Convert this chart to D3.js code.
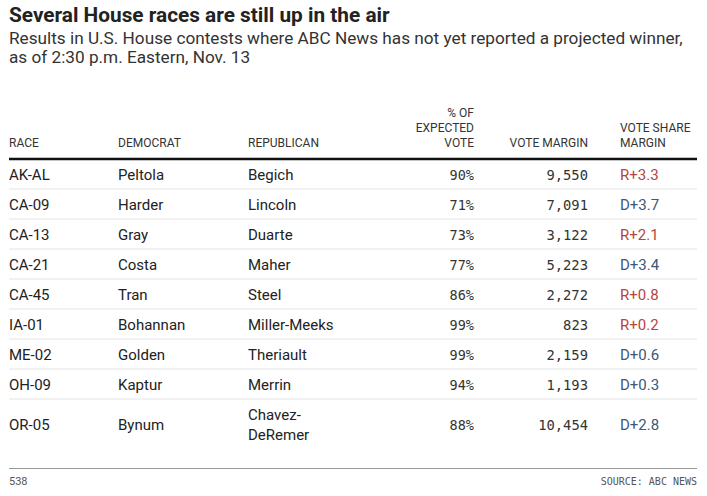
<!DOCTYPE html>
<html>
<head>
<meta charset="utf-8">
<script src="https://cdn.jsdelivr.net/npm/d3@7"></script>
<style>
  html, body { margin: 0; padding: 0; background: #fff; }
  svg { display: block; }
</style>
</head>
<body>
<div id="chart"></div>
<script>
// ---------- DATA ----------
const races = ["AK-AL", "CA-09", "CA-13", "CA-21", "CA-45", "IA-01", "ME-02", "OH-09", "OR-05"];
const democrats = ["Peltola", "Harder", "Gray", "Costa", "Tran", "Bohannan", "Golden", "Kaptur", "Bynum"];
const republicans = [["Begich"], ["Lincoln"], ["Duarte"], ["Maher"], ["Steel"], ["Miller-Meeks"], ["Theriault"], ["Merrin"], ["Chavez-", "DeRemer"]];
const expectedPct = [90, 71, 73, 77, 86, 99, 99, 94, 88];
const voteMargin = [9550, 7091, 3122, 5223, 2272, 823, 2159, 1193, 10454];
const shareParty = ["R", "D", "R", "D", "R", "R", "D", "D", "D"];
const shareMargin = [3.3, 3.7, 2.1, 3.4, 0.8, 0.2, 0.6, 0.3, 2.8];
const columnHeaders = [["RACE"], ["DEMOCRAT"], ["REPUBLICAN"], ["% OF", "EXPECTED", "VOTE"], ["VOTE MARGIN"], ["VOTE SHARE", "MARGIN"]];

const title = "Several House races are still up in the air";
const subtitle = ["Results in U.S. House contests where ABC News has not yet reported a projected winner,", "as of 2:30 p.m. Eastern, Nov. 13"];
const credit = "538";
const source = "SOURCE: ABC NEWS";

// ---------- LAYOUT ----------
const W = 707, H = 496;
const left = 9, right = 697;
const headerLineY = 159;
const rowUnit = 30, lineExtra = 20;
const sans = "Roboto, 'Liberation Sans', Arial, sans-serif";
const mono = "'DejaVu Sans Mono', 'Liberation Mono', monospace";
const partyColor = d3.scaleOrdinal().domain(["R", "D"]).range(["#b5463d", "#3d5878"]);

const svg = d3.select("#chart").append("svg").attr("width", W).attr("height", H);

// Title & subtitle
svg.append("text").attr("x", left).attr("y", 22)
  .attr("font-family", sans).attr("font-weight", 700).attr("font-size", 20.8)
  .attr("fill", "#222").text(title);
svg.selectAll("text.sub").data(subtitle).join("text").attr("class", "sub")
  .attr("x", left).attr("y", (d, i) => 44 + i * 19)
  .attr("font-family", sans).attr("font-size", 17.2).attr("fill", "#333")
  .text(d => d);

// Columns: x anchors
const colX = [left, 118, 248, 474, 588, 620];
const colAnchor = ["start", "start", "start", "end", "end", "start"];

// Column headers
const hdr = svg.append("g");
columnHeaders.forEach((lines, c) => {
  const n = lines.length;
  lines.forEach((t, k) => {
    hdr.append("text")
      .attr("x", colX[c]).attr("y", 147 - (n - 1 - k) * 15)
      .attr("text-anchor", colAnchor[c])
      .attr("font-family", sans).attr("font-size", 12).attr("fill", "#333")
      .text(t);
  });
});
svg.append("line").attr("x1", left).attr("x2", right)
  .attr("y1", headerLineY).attr("y2", headerLineY)
  .attr("stroke", "#111").attr("stroke-width", 2.5);

// Row geometry from data (row heights depend on number of text lines)
const rowHeights = republicans.map(r => rowUnit + (r.length - 1) * lineExtra);
const rowTops = [];
rowHeights.reduce((acc, h) => { rowTops.push(acc); return acc + h; }, headerLineY);

const fmt = d3.format(",");
const rows = svg.append("g").selectAll("g").data(races).join("g")
  .attr("transform", (d, i) => `translate(0,${rowTops[i]})`);

rows.each(function(d, i) {
  const g = d3.select(this);
  const h = rowHeights[i];
  const cy = h / 2 + 5.5;
  g.append("text").attr("x", colX[0]).attr("y", cy)
    .attr("font-family", sans).attr("font-size", 15).attr("fill", "#222").text(d);
  g.append("text").attr("x", colX[1]).attr("y", cy)
    .attr("font-family", sans).attr("font-size", 15).attr("fill", "#222").text(democrats[i]);
  const rep = republicans[i];
  rep.forEach((t, k) => {
    g.append("text").attr("x", colX[2]).attr("y", cy + (k - (rep.length - 1) / 2) * lineExtra)
      .attr("font-family", sans).attr("font-size", 15).attr("fill", "#222").text(t);
  });
  g.append("text").attr("x", colX[3]).attr("y", cy).attr("text-anchor", "end")
    .attr("font-family", mono).attr("font-size", 13.5).attr("fill", "#333")
    .text(expectedPct[i] + "%");
  g.append("text").attr("x", colX[4]).attr("y", cy).attr("text-anchor", "end")
    .attr("font-family", mono).attr("font-size", 13.8).attr("fill", "#333")
    .text(fmt(voteMargin[i]));
  g.append("text").attr("x", colX[5]).attr("y", cy)
    .attr("font-family", sans).attr("font-size", 15).attr("fill", partyColor(shareParty[i]))
    .text(shareParty[i] + "+" + shareMargin[i].toFixed(1));
  if (i < races.length - 1) {
    g.append("line").attr("x1", left).attr("x2", right)
      .attr("y1", h).attr("y2", h).attr("stroke", "#e4e4e4").attr("stroke-width", 1);
  }
});

// Footer
svg.append("line").attr("x1", left).attr("x2", right)
  .attr("y1", 468.5).attr("y2", 468.5).attr("stroke", "#999").attr("stroke-width", 1);
svg.append("text").attr("x", left).attr("y", 485)
  .attr("font-family", sans).attr("font-size", 11).attr("fill", "#555").text(credit);
svg.append("text").attr("x", right).attr("y", 485).attr("text-anchor", "end")
  .attr("font-family", mono).attr("font-size", 10).attr("fill", "#555").text(source);
</script>
</body>
</html>
